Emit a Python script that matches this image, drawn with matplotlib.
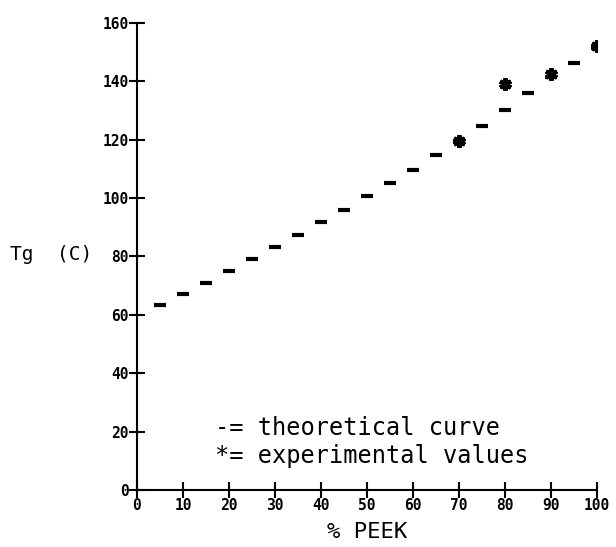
import matplotlib
matplotlib.use("Agg")
import matplotlib.pyplot as plt

# theoretical Tg curve vs % PEEK
theory_peek = [5, 10, 15, 20, 25, 30, 35, 40, 45, 50, 55, 60, 65, 70, 75, 80, 85, 90, 95, 100]
theory_tg = [63.4, 67.1, 70.9, 75.0, 79.1, 83.2, 87.5, 91.8, 95.9, 100.7,
             105.1, 109.6, 114.7, 119.5, 124.7, 130.1, 136.0, 141.5, 146.2, 151.5]

# measured values
exp_peek = [70, 80, 90, 100]
exp_tg = [119.5, 139.0, 142.5, 152.0]

x_ticks = [0, 10, 20, 30, 40, 50, 60, 70, 80, 90, 100]
y_ticks = [0, 20, 40, 60, 80, 100, 120, 140, 160]

mono = "DejaVu Sans Mono"

fig = plt.figure(figsize=(6.16, 5.47), dpi=100)
ax = fig.add_axes([0.2224, 0.1042, 0.7466, 0.8538])

ax.plot(theory_peek, theory_tg, ls="none", marker="_", ms=9, mew=3, color="black")
ax.plot(exp_peek, exp_tg, ls="none", marker=(6, 2, 0), ms=9, mew=3, color="black")

ax.set_xlim(0, 100)
ax.set_ylim(0, 160)
ax.set_xticks(x_ticks)
ax.set_yticks(y_ticks)
ax.spines["top"].set_visible(False)
ax.spines["right"].set_visible(False)
for s in ("left", "bottom"):
    ax.spines[s].set_linewidth(1.5)
ax.tick_params(direction="inout", length=12, width=1.5, pad=0)
for lab in ax.get_xticklabels() + ax.get_yticklabels():
    lab.set_family(mono)
    lab.set_fontweight("bold")
    lab.set_fontsize(10.5)

ax.set_xlabel("% PEEK", family=mono, fontsize=16, labelpad=6)
fig.text(0.083, 0.535, "Tg  (C)", family=mono, fontsize=14, ha="center", va="center")

ax.text(17, 18.8, "-= theoretical curve", family=mono, fontsize=17)
ax.text(17, 9.2, "*= experimental values", family=mono, fontsize=17)

fig.savefig("out.png", dpi=100)
